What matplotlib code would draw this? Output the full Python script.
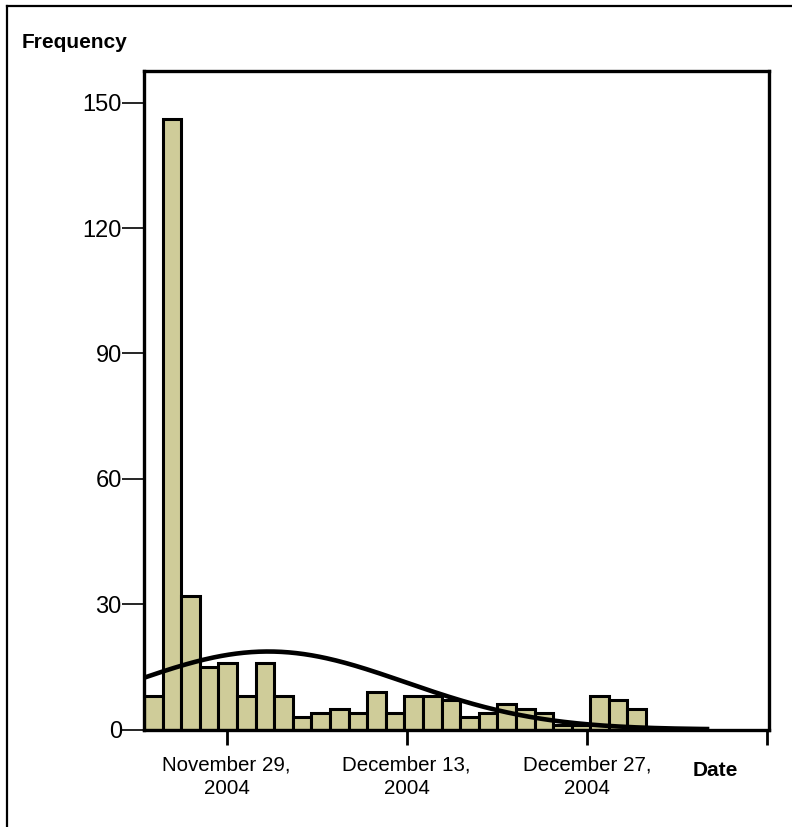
import numpy as np
import matplotlib
matplotlib.use('Agg')
import matplotlib.pyplot as plt
import matplotlib.dates as mdates
from matplotlib.lines import Line2D
from datetime import datetime

plt.rcParams['font.family'] = ['Liberation Sans', 'DejaVu Sans']

# histogram counts per bin
counts = [8, 146, 32, 15, 16, 8, 16, 8, 3, 4, 5, 4, 9, 4, 8,
          8, 7, 3, 4, 6, 5, 4, 1, 1, 8, 7, 5]
# bins: first edge and width in days, relative to Nov 29, 2004
ref_date = datetime(2004, 11, 29)
first_edge_days = -6.43
bin_width_days = 1.446
# last date covered by the fitted curve (days after Nov 29)
curve_end_days = 37.35

tick_dates = [datetime(2004, 11, 29), datetime(2004, 12, 13),
              datetime(2004, 12, 27), datetime(2005, 1, 10)]
tick_labels = ['November 29,\n2004', 'December 13,\n2004', 'December 27,\n2004', '']
y_ticks = [0, 30, 60, 90, 120, 150]

counts = np.array(counts)
ref = mdates.date2num(ref_date)
edges = ref + first_edge_days + bin_width_days * np.arange(len(counts) + 1)
centers = (edges[:-1] + edges[1:]) / 2

# normal curve fitted to the binned data (as the stats package draws it)
n = counts.sum()
mean = (centers * counts).sum() / n
sd = np.sqrt(((centers - mean) ** 2 * counts).sum() / n)
xs = np.linspace(edges[0], ref + curve_end_days, 300)
ys = n * bin_width_days / (sd * np.sqrt(2 * np.pi)) * np.exp(-0.5 * ((xs - mean) / sd) ** 2)

fig = plt.figure(figsize=(7.92, 8.27), dpi=100)
ax = fig.add_axes([144 / 792, 1 - 729.5 / 827, (769 - 144) / 792, (729.5 - 71) / 827])

ax.bar(edges[:-1], counts, width=bin_width_days, align='edge',
       color='#cfcc99', edgecolor='black', linewidth=2.2, zorder=2)
ax.plot(xs, ys, color='black', linewidth=3.3, zorder=3)

ax.set_xlim(edges[0], ref + 42.17)
ax.set_ylim(0, 157.6)

ax.set_yticks(y_ticks)
ax.tick_params(axis='y', direction='out', length=16, width=1.2, pad=0, labelsize=17)
ax.set_xticks([mdates.date2num(d) for d in tick_dates])
ax.set_xticklabels(tick_labels, linespacing=1.25)
ax.tick_params(axis='x', direction='out', length=11, width=2, pad=8, labelsize=14.8)

for s in ax.spines.values():
    s.set_linewidth(2.4)

fig.text(22 / 792, 1 - 43 / 827, 'Frequency', fontsize=15, fontweight='bold', va='center', ha='left')
fig.text(693 / 792, 1 - 770 / 827, 'Date', fontsize=15, fontweight='bold', va='center', ha='left')

# outer frame (top and left edges only)
fig.add_artist(Line2D([7 / 792, 1], [1 - 6 / 827, 1 - 6 / 827], color='black', linewidth=1.6,
                      transform=fig.transFigure))
fig.add_artist(Line2D([7 / 792, 7 / 792], [0, 1 - 6 / 827], color='black', linewidth=1.6,
                      transform=fig.transFigure))

fig.savefig('out.png', dpi=100)
